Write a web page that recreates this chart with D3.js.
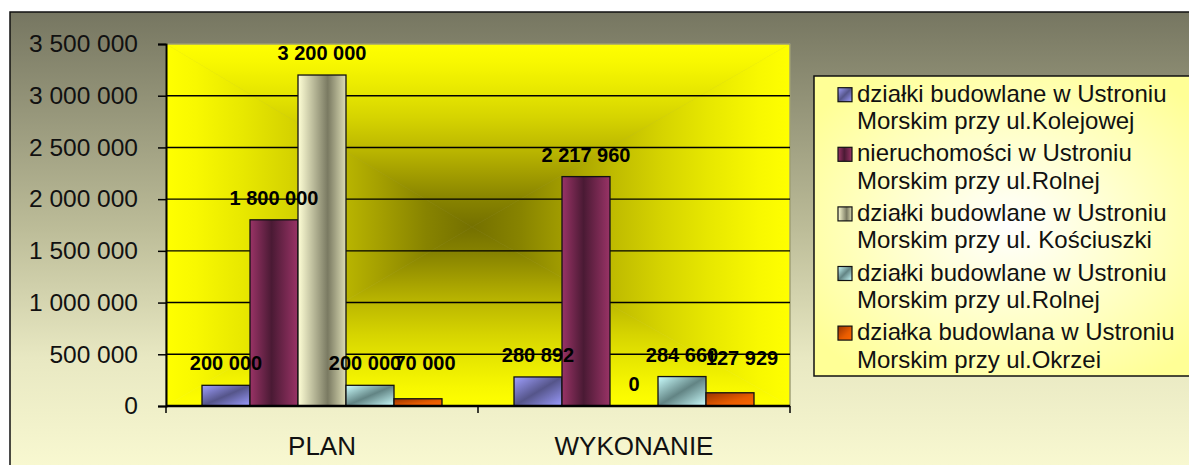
<!DOCTYPE html>
<html>
<head>
<meta charset="utf-8">
<script src="https://cdn.jsdelivr.net/npm/d3@7.9.0/dist/d3.min.js"></script>
<style>
  html, body { margin: 0; padding: 0; background: #fff; }
  svg { display: block; font-family: "Liberation Sans", Arial, sans-serif; }
</style>
</head>
<body>
<svg id="chart" width="1189" height="465"></svg>
<script>
// Data
const categories = ["PLAN", "WYKONANIE"];
const seriesNames = [
  "działki budowlane w Ustroniu Morskim przy ul.Kolejowej",
  "nieruchomości w Ustroniu Morskim przy ul.Rolnej",
  "działki budowlane w Ustroniu Morskim przy ul. Kościuszki",
  "działki budowlane w Ustroniu Morskim przy ul.Rolnej",
  "działka budowlana w Ustroniu Morskim przy ul.Okrzei"
];
const kolejowaValues  = [200000, 280892];
const rolnaNierValues = [1800000, 2217960];
const kosciuszkiValues = [3200000, 0];
const rolnaDzValues   = [200000, 284660];
const okrzeiValues    = [70000, 127929];
const seriesValues = [kolejowaValues, rolnaNierValues, kosciuszkiValues, rolnaDzValues, okrzeiValues];
const yTicks = [0, 500000, 1000000, 1500000, 2000000, 2500000, 3000000, 3500000];

// gradient stops for each series (light / dark / light)
const barGradients = [
  { dir: [0, 0, 1, 1], stops: [["0", "#a0a0ff"], ["0.5", "#55558a"], ["1", "#9c9cff"]] },
  { dir: [0, 0, 1, 0], stops: [["0", "#993366"], ["0.45", "#4a1a34"], ["1", "#993366"]] },
  { dir: [0, 0, 1, 0], stops: [["0", "#ffffd6"], ["0.62", "#7a7a62"], ["1", "#dcdcb4"]] },
  { dir: [0, 0, 1, 1], stops: [["0", "#ccffff"], ["0.5", "#628484"], ["1", "#ccffff"]] },
  { dir: [0, 0, 1, 1], stops: [["0", "#993300"], ["0.6", "#e85c00"], ["1", "#ff6600"]] }
];

// labels that were dragged by hand in the original (category-series -> [dx, dy])
const labelShift = { "0-3": [-5, 0], "0-4": [7, -14], "1-4": [12, -13] };

const svg = d3.select("#chart");
const defs = svg.append("defs");

const plot = { left: 166, right: 790, top: 44, bottom: 406 };
const fmt = d3.formatLocale({ decimal: ",", thousands: " ", grouping: [3], currency: ["", ""] }).format(",d");

// outer chart background
const bg = defs.append("linearGradient").attr("id", "bg")
  .attr("x1", 0).attr("y1", 0).attr("x2", 0).attr("y2", 1);
[["0", "#767661"], ["0.45", "#bcbc98"], ["0.72", "#e8e8c2"], ["1", "#fcfcd4"]]
  .forEach(([o, c]) => bg.append("stop").attr("offset", o).attr("stop-color", c));

svg.append("rect")
  .attr("x", 10).attr("y", 12).attr("width", 1200).attr("height", 480)
  .attr("fill", "url(#bg)").attr("stroke", "#111").attr("stroke-width", 1.5);

// plot background: rectangular gradient from centre (4 triangles)
const cx = (plot.left + plot.right) / 2 - 6, cy = (plot.top + plot.bottom) / 2 + 2;
const plotStops = [["0", "#747000"], ["0.15", "#878300"], ["0.3", "#a49f00"], ["0.45", "#c0bc00"],
                   ["0.6", "#d6d400"], ["0.75", "#e8e800"], ["0.9", "#f8f800"], ["1", "#ffff00"]];
const sides = [
  { id: "pt", to: [cx, plot.top], pts: [[plot.left, plot.top], [plot.right, plot.top]] },
  { id: "pb", to: [cx, plot.bottom], pts: [[plot.left, plot.bottom], [plot.right, plot.bottom]] },
  { id: "pl", to: [plot.left, cy], pts: [[plot.left, plot.top], [plot.left, plot.bottom]] },
  { id: "pr", to: [plot.right, cy], pts: [[plot.right, plot.top], [plot.right, plot.bottom]] }
];
sides.forEach(s => {
  const g = defs.append("linearGradient").attr("id", s.id)
    .attr("gradientUnits", "userSpaceOnUse")
    .attr("x1", cx).attr("y1", cy).attr("x2", s.to[0]).attr("y2", s.to[1]);
  plotStops.forEach(([o, c]) => g.append("stop").attr("offset", o).attr("stop-color", c));
  svg.append("polygon")
    .attr("points", [s.pts[0], s.pts[1], [cx, cy]].map(p => p.join(",")).join(" "))
    .attr("fill", `url(#${s.id})`)
    .attr("stroke", `url(#${s.id})`).attr("stroke-width", 0.6);
});
svg.append("rect")
  .attr("x", plot.left).attr("y", plot.top)
  .attr("width", plot.right - plot.left).attr("height", plot.bottom - plot.top)
  .attr("fill", "none").attr("stroke", "#8a8a8a").attr("stroke-width", 1.2);

// scales
const x0 = d3.scaleBand().domain(categories).range([plot.left, plot.right]);
const x1 = d3.scaleBand().domain(d3.range(seriesNames.length))
  .range([0, x0.bandwidth()]).paddingInner(0).paddingOuter(0.75);
const y = d3.scaleLinear().domain([0, 3500000]).range([plot.bottom, plot.top]);

// gridlines
svg.append("g").selectAll("line")
  .data(yTicks.filter(t => t > 0 && t < 3500000))
  .join("line")
  .attr("x1", plot.left).attr("x2", plot.right)
  .attr("y1", d => y(d)).attr("y2", d => y(d))
  .attr("stroke", "#000").attr("stroke-width", 1.4);

// bar gradients
barGradients.forEach((g, i) => {
  const lg = defs.append("linearGradient").attr("id", "bar" + i)
    .attr("x1", g.dir[0]).attr("y1", g.dir[1]).attr("x2", g.dir[2]).attr("y2", g.dir[3]);
  g.stops.forEach(([o, c]) => lg.append("stop").attr("offset", o).attr("stop-color", c));
});

// bars
const groups = svg.append("g").selectAll("g")
  .data(categories)
  .join("g")
  .attr("transform", d => `translate(${x0(d)},0)`);

const cells = (c, ci) => seriesValues.map((vals, si) => ({ ci, si, v: vals[ci] }));

groups.selectAll("rect")
  .data(cells)
  .join("rect")
  .attr("x", d => x1(d.si))
  .attr("y", d => y(d.v))
  .attr("width", x1.bandwidth())
  .attr("height", d => y(0) - y(d.v))
  .attr("fill", d => `url(#bar${d.si})`)
  .attr("stroke", "#111").attr("stroke-width", d => d.v > 0 ? 1.3 : 0);

groups.selectAll("text")
  .data(cells)
  .join("text")
  .attr("x", d => x1(d.si) + x1.bandwidth() / 2 + (labelShift[d.ci + "-" + d.si] || [0, 0])[0])
  .attr("y", d => y(d.v) - 15 + (labelShift[d.ci + "-" + d.si] || [0, 0])[1])
  .attr("text-anchor", "middle")
  .attr("font-size", 20).attr("font-weight", "bold")
  .attr("fill", "#000")
  .text(d => fmt(d.v));

// y axis
const yAxis = svg.append("g")
  .attr("transform", `translate(${plot.left},0)`)
  .call(d3.axisLeft(y).tickValues(yTicks).tickFormat(fmt).tickSize(8).tickPadding(20));
yAxis.select(".domain").attr("stroke", "#000").attr("stroke-width", 2);
yAxis.selectAll(".tick line").attr("stroke", "#000").attr("stroke-width", 1.5);
yAxis.selectAll("text")
  .attr("font-size", 24.5).attr("fill", "#111")
  .attr("font-family", "'Liberation Sans', Arial, sans-serif");

// x axis
const xAxis = svg.append("g")
  .attr("transform", `translate(0,${plot.bottom})`)
  .call(d3.axisBottom(x0).tickSize(0).tickPadding(31));
xAxis.select(".domain").remove();
xAxis.selectAll("text")
  .attr("font-size", 26).attr("fill", "#111")
  .attr("font-family", "'Liberation Sans', Arial, sans-serif");
svg.append("line")
  .attr("x1", plot.left).attr("x2", plot.right)
  .attr("y1", plot.bottom).attr("y2", plot.bottom)
  .attr("stroke", "#000").attr("stroke-width", 2.6);
svg.append("g").selectAll("line")
  .data([plot.left, x0(categories[1]), plot.right])
  .join("line")
  .attr("x1", d => d).attr("x2", d => d)
  .attr("y1", plot.bottom).attr("y2", plot.bottom + 7)
  .attr("stroke", "#000").attr("stroke-width", 1.5);

// legend
const legBg = defs.append("radialGradient").attr("id", "legbg")
  .attr("cx", 0.5).attr("cy", 0.5).attr("r", 0.62);
[["0", "#ffffff"], ["0.45", "#ffffd0"], ["1", "#ffff96"]]
  .forEach(([o, c]) => legBg.append("stop").attr("offset", o).attr("stop-color", c));

const legend = svg.append("g").attr("transform", "translate(814,76)");
legend.append("rect")
  .attr("width", 390).attr("height", 300)
  .attr("fill", "url(#legbg)").attr("stroke", "#111").attr("stroke-width", 1.5);

const items = legend.selectAll("g.item")
  .data(seriesNames)
  .join("g")
  .attr("class", "item")
  .attr("transform", (d, i) => `translate(0,${25.7 + i * 59.6})`);

items.append("rect")
  .attr("x", 24).attr("y", -14).attr("width", 14).attr("height", 14)
  .attr("fill", (d, i) => `url(#bar${i})`)
  .attr("stroke", "#111").attr("stroke-width", 1.2);

items.each(function (d) {
  const cut = d.indexOf(" Morskim");
  const lines = [d.slice(0, cut), d.slice(cut + 1)];
  d3.select(this).selectAll("text")
    .data(lines)
    .join("text")
    .attr("x", 43)
    .attr("y", (l, k) => k * 27.6)
    .attr("font-size", 24).attr("fill", "#111")
    .text(l => l);
});
</script>
</body>
</html>
